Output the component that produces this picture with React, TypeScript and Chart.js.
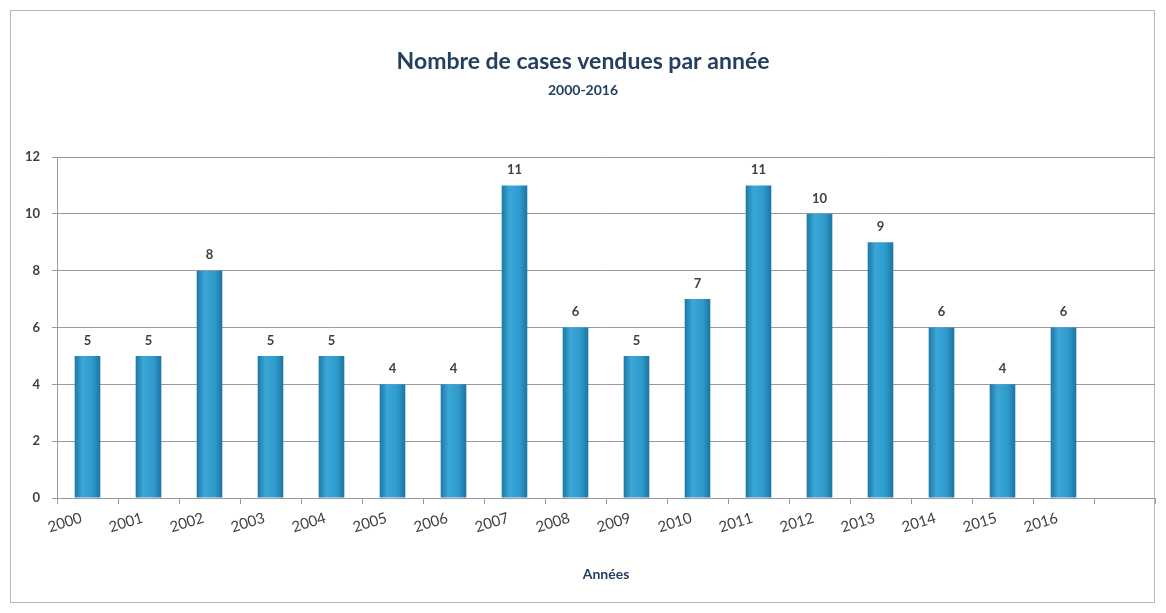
import React, { useEffect, useRef } from "react";
import { Chart, registerables } from "chart.js";

Chart.register(...registerables);

const categories: string[] = [
  "2000", "2001", "2002", "2003", "2004", "2005", "2006", "2007", "2008",
  "2009", "2010", "2011", "2012", "2013", "2014", "2015", "2016", "",
];
const casesSold: (number | null)[] = [5, 5, 8, 5, 5, 4, 4, 11, 6, 5, 7, 11, 10, 9, 6, 4, 6, null];
const yTicks: number[] = [0, 2, 4, 6, 8, 10, 12];
const titleText = "Nombre de cases vendues par année";
const subtitleText = "2000-2016";
const xTitleText = "Années";

const FONT = "Lato, 'Open Sans', sans-serif";
const TITLE_COLOR = "#243f60";
const TEXT_COLOR = "#404040";
const GRID_COLOR = "#9a9aa6";
const BAR_PCT = 0.42;

const decorPlugin = {
  id: "decor",
  beforeDraw(chart: any) {
    const ctx = chart.ctx;
    ctx.save();
    ctx.fillStyle = "#ffffff";
    ctx.fillRect(0, 0, chart.width, chart.height);
    ctx.strokeStyle = "#b8b8c0";
    ctx.lineWidth = 1;
    ctx.strokeRect(10.5, 10.5, chart.width - 22, chart.height - 21);
    ctx.restore();
  },
  afterDraw(chart: any) {
    const ctx = chart.ctx;
    ctx.save();
    ctx.fillStyle = TITLE_COLOR;
    ctx.textAlign = "center";
    ctx.textBaseline = "middle";
    ctx.font = `bold 23px ${FONT}`;
    ctx.fillText(titleText, chart.width / 2, 62);
    ctx.font = `bold 14px ${FONT}`;
    ctx.fillText(subtitleText, chart.width / 2, 90);
    ctx.restore();
  },
  afterDatasetsDraw(chart: any) {
    const ctx = chart.ctx;
    const meta = chart.getDatasetMeta(0);
    ctx.save();
    ctx.fillStyle = TEXT_COLOR;
    ctx.textAlign = "center";
    ctx.textBaseline = "bottom";
    ctx.font = `bold 13px ${FONT}`;
    meta.data.forEach((el: any, i: number) => {
      const v = casesSold[i];
      if (v == null) return;
      ctx.fillText(String(v), el.x, el.y - 9);
    });
    ctx.restore();
  },
};

export default function App() {
  const ref = useRef<HTMLCanvasElement | null>(null);

  useEffect(() => {
    document.body.style.margin = "0";
    const canvas = ref.current!;
    const chart = new Chart(canvas, {
      type: "bar",
      data: {
        labels: categories,
        datasets: [
          {
            data: casesSold as any,
            barPercentage: BAR_PCT,
            categoryPercentage: 1,
            borderWidth: 0,
            backgroundColor: (ctx: any) => {
              const c = ctx.chart;
              const xs = c.scales && c.scales.x;
              if (!c.chartArea || !xs || ctx.dataIndex == null) return "#2e9acb";
              const cx = xs.getPixelForValue(ctx.dataIndex);
              const w = (xs.width / categories.length) * BAR_PCT;
              if (!isFinite(cx)) return "#2e9acb";
              const g = c.ctx.createLinearGradient(cx - w / 2, 0, cx + w / 2, 0);
              g.addColorStop(0, "#1d77a3");
              g.addColorStop(0.3, "#3aa7d7");
              g.addColorStop(0.7, "#2f9bcc");
              g.addColorStop(1, "#1c74a0");
              return g;
            },
          },
        ],
      },
      options: {
        responsive: false,
        animation: false,
        layout: { padding: { left: 0, right: 11, top: 157, bottom: 30 } },
        plugins: {
          legend: { display: false },
          tooltip: { enabled: false },
          title: { display: false },
        },
        scales: {
          x: {
            offset: true,
            grid: {
              offset: true,
              drawOnChartArea: false,
              drawTicks: true,
              tickLength: 6,
              color: GRID_COLOR,
            },
            border: { color: GRID_COLOR },
            ticks: {
              minRotation: 17,
              maxRotation: 17,
              autoSkip: false,
              padding: 5,
              labelOffset: -6,
              color: TEXT_COLOR,
              font: { family: FONT, size: 15 },
            },
            title: {
              display: true,
              text: xTitleText,
              color: TITLE_COLOR,
              font: { family: FONT, size: 14, weight: "bold" },
              padding: { top: 0, bottom: 0 },
            },
            afterFit: (scale: any) => {
              scale.height = 85;
            },
          },
          y: {
            min: 0,
            max: 12,
            afterBuildTicks: (scale: any) => {
              scale.ticks = yTicks.map((v) => ({ value: v }));
            },
            grid: {
              color: GRID_COLOR,
              drawTicks: true,
              tickLength: 5,
            },
            border: { color: GRID_COLOR },
            ticks: {
              padding: 12,
              color: TEXT_COLOR,
              font: { family: FONT, size: 13, weight: "bold" },
            },
            afterFit: (scale: any) => {
              scale.width = 57;
            },
          },
        },
      },
      plugins: [decorPlugin],
    });
    return () => chart.destroy();
  }, []);

  return (
    <div style={{ position: "fixed", left: 0, top: 0, width: 1166, height: 613 }}>
      <canvas ref={ref} width={1166} height={613} style={{ display: "block" }} />
    </div>
  );
}
